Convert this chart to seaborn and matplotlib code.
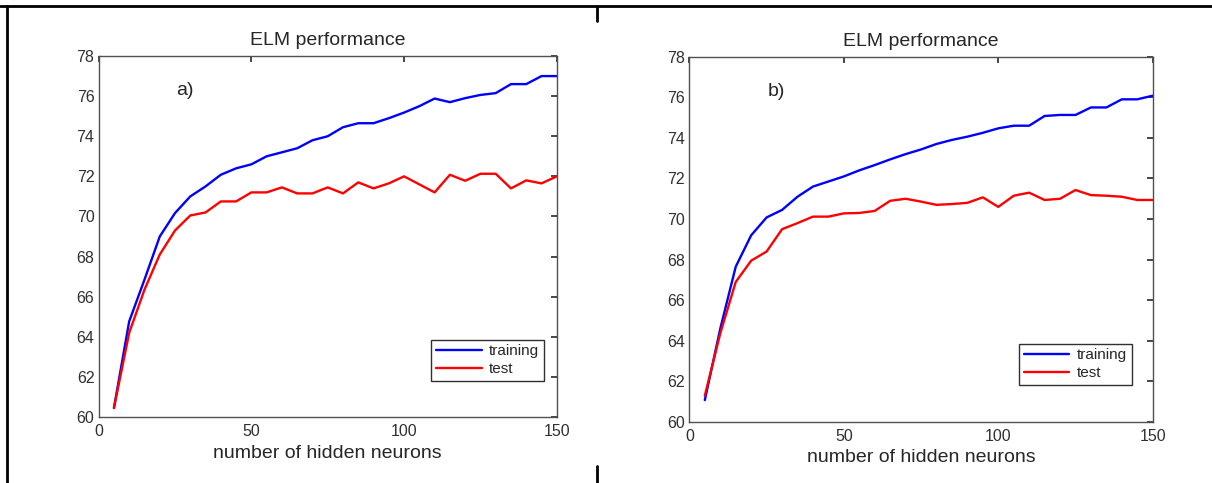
import numpy as np
import pandas as pd
import matplotlib
matplotlib.use("Agg")
import matplotlib.pyplot as plt
from matplotlib.lines import Line2D
import seaborn as sns

# hidden neurons 5..150 step 5
neurons = list(range(5, 155, 5))

train_a = [60.45, 64.77, 66.85, 69.0, 70.17, 71.0, 71.5, 72.08, 72.4, 72.6,
           73.0, 73.2, 73.4, 73.8, 74.0, 74.45, 74.65, 74.65, 74.9, 75.18,
           75.5, 75.88, 75.7, 75.9, 76.06, 76.15, 76.6, 76.6, 77.0, 77.0]
test_a = [60.45, 64.2, 66.35, 68.1, 69.3, 70.05, 70.2, 70.75, 70.75, 71.2,
          71.2, 71.45, 71.15, 71.15, 71.45, 71.15, 71.7, 71.4, 71.65, 72.0,
          71.6, 71.2, 72.08, 71.78, 72.13, 72.13, 71.4, 71.8, 71.65, 72.0]

train_b = [61.08, 64.6, 67.65, 69.2, 70.08, 70.45, 71.1, 71.6, 71.85, 72.1,
           72.4, 72.66, 72.94, 73.2, 73.43, 73.7, 73.9, 74.06, 74.25, 74.47,
           74.6, 74.6, 75.08, 75.13, 75.13, 75.5, 75.5, 75.9, 75.9, 76.08]
test_b = [61.3, 64.37, 66.9, 67.95, 68.4, 69.5, 69.8, 70.12, 70.12, 70.28,
          70.3, 70.4, 70.9, 71.0, 70.86, 70.7, 70.74, 70.8, 71.07, 70.6,
          71.15, 71.3, 70.94, 71.0, 71.43, 71.18, 71.15, 71.1, 70.94, 70.94]

x_ticks = [0, 50, 100, 150]
y_ticks = list(range(60, 80, 2))

sns.set_theme(style="white")
plt.rcParams['font.family'] = ['Liberation Sans', 'DejaVu Sans']
narrow = ['Liberation Sans Narrow', 'Liberation Sans', 'DejaVu Sans']

fig = plt.figure(figsize=(12.12, 4.83), dpi=100)
ax_a = fig.add_axes([0.0814, 0.1366, 0.378, 0.7474])
ax_b = fig.add_axes([0.5688, 0.1263, 0.3823, 0.7563])

panels = [
    (ax_a, train_a, test_a, "a)", (0.972, 0.1006)),
    (ax_b, train_b, test_b, "b)", (0.9547, 0.102)),
]

for ax, tr, te, tag, leg_pos in panels:
    df = pd.DataFrame({
        "neurons": neurons * 2,
        "acc": tr + te,
        "set": ["training"] * len(neurons) + ["test"] * len(neurons),
    })
    sns.lineplot(data=df, x="neurons", y="acc", hue="set", ax=ax,
                 palette={"training": "#0000ff", "test": "#ff0000"},
                 linewidth=1.7)
    ax.set_xlim(0, 150)
    ax.set_ylim(60, 78)
    ax.set_xticks(x_ticks)
    ax.set_yticks(y_ticks)
    ax.tick_params(direction="in", length=4, top=True, right=True,
                   labelsize=11.5, colors="#303030", pad=3)
    ax.tick_params(axis="x", pad=5)
    for lab in ax.get_xticklabels() + ax.get_yticklabels():
        lab.set_family(narrow)
    for sp in ax.spines.values():
        sp.set_color("#505050")
        sp.set_linewidth(1.0)
    ax.set_title("ELM performance", fontsize=14, pad=8)
    ax.set_xlabel("number of hidden neurons", fontsize=14, labelpad=4)
    ax.set_ylabel("")
    ax.text(0.17, 0.905, tag, transform=ax.transAxes, fontsize=14,
            va="center", ha="left")
    leg = ax.legend(loc="lower right", bbox_to_anchor=leg_pos, fontsize=11,
                    frameon=True, fancybox=False, handlelength=3.0,
                    borderpad=0.3, labelspacing=0.25, handletextpad=0.5,
                    borderaxespad=0)
    leg.get_frame().set_edgecolor("#303030")
    leg.get_frame().set_linewidth(1.0)
    leg.get_frame().set_alpha(1)

# page frame lines around the figure
fig.add_artist(Line2D([0, 1], [0.9886, 0.9886], transform=fig.transFigure,
                      color="black", linewidth=2))
fig.add_artist(Line2D([0.0058, 0.0058], [0, 0.9886], transform=fig.transFigure,
                      color="black", linewidth=2))
fig.add_artist(Line2D([0.4926, 0.4926], [0.9886, 0.9565], transform=fig.transFigure,
                      color="black", linewidth=2))
fig.add_artist(Line2D([0.4926, 0.4926], [0.0352, 0], transform=fig.transFigure,
                      color="black", linewidth=2))

fig.savefig("out.png", dpi=100)
